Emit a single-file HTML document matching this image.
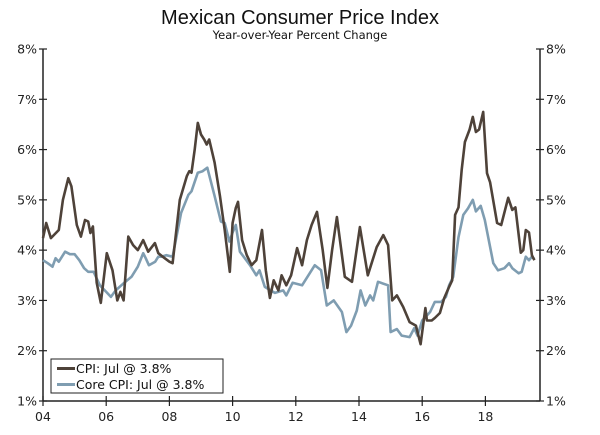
<!DOCTYPE html>
<html><head><meta charset="utf-8"><style>
body{margin:0;background:#fff;}
svg{display:block;font-family:"DejaVu Sans","Liberation Sans",sans-serif;}
</style></head><body>
<svg id="chart" width="600" height="435">
<rect width="600" height="435" fill="#ffffff"/>
<text x="300" y="24" text-anchor="middle" font-size="20" fill="#111" font-family="Liberation Sans, sans-serif">Mexican Consumer Price Index</text>
<text x="300" y="39" text-anchor="middle" font-size="11.5" fill="#111">Year-over-Year Percent Change</text>
<g id="axes"></g>
<g id="series"></g>
<g>
<rect x="51" y="359" width="172" height="34" fill="#fff" stroke="#222" stroke-width="1"/>
<line x1="57" y1="368.5" x2="75" y2="368.5" stroke="#4e4239" stroke-width="3"/>
<text x="76" y="373" font-size="12.5" fill="#111">CPI: Jul @ 3.8%</text>
<line x1="57" y1="384.5" x2="75" y2="384.5" stroke="#7f9db1" stroke-width="3"/>
<text x="76" y="389" font-size="12.5" fill="#111">Core CPI: Jul @ 3.8%</text>
</g>
</svg>
<script>
const cpiDates=[2004.0,2004.1,2004.25,2004.5,2004.63,2004.8,2004.9,2005.07,2005.2,2005.33,2005.43,2005.5,2005.58,2005.7,2005.83,2006.02,2006.2,2006.35,2006.45,2006.55,2006.7,2006.85,2007.0,2007.17,2007.33,2007.54,2007.65,2007.85,2008.0,2008.1,2008.33,2008.55,2008.63,2008.7,2008.8,2008.9,2009.0,2009.1,2009.18,2009.26,2009.43,2009.6,2009.75,2009.91,2010.0,2010.1,2010.17,2010.3,2010.45,2010.6,2010.75,2010.93,2011.05,2011.18,2011.3,2011.45,2011.55,2011.7,2011.85,2012.04,2012.2,2012.35,2012.5,2012.67,2012.85,2013.0,2013.15,2013.3,2013.55,2013.78,2014.03,2014.28,2014.56,2014.77,2014.92,2015.05,2015.2,2015.4,2015.6,2015.8,2015.95,2016.1,2016.15,2016.3,2016.4,2016.56,2016.7,2016.85,2016.95,2017.04,2017.15,2017.25,2017.35,2017.5,2017.6,2017.7,2017.8,2017.93,2018.05,2018.15,2018.37,2018.5,2018.72,2018.85,2018.95,2019.12,2019.2,2019.28,2019.38,2019.47,2019.55];
const cpiValues=[4.24,4.54,4.24,4.4,5.0,5.43,5.27,4.5,4.27,4.6,4.57,4.34,4.47,3.35,2.95,3.94,3.6,3.0,3.17,3.0,4.27,4.1,4.0,4.2,3.97,4.14,3.94,3.84,3.77,3.74,5.0,5.47,5.57,5.54,6.0,6.53,6.3,6.2,6.1,6.2,5.74,5.07,4.4,3.57,4.54,4.84,4.96,4.2,3.9,3.7,3.8,4.4,3.6,3.05,3.4,3.2,3.5,3.3,3.5,4.04,3.7,4.2,4.5,4.76,4.0,3.25,4.0,4.66,3.47,3.37,4.46,3.5,4.06,4.3,4.1,3.0,3.1,2.87,2.57,2.5,2.13,2.85,2.6,2.6,2.65,2.75,3.05,3.27,3.4,4.7,4.85,5.6,6.15,6.4,6.65,6.35,6.4,6.75,5.53,5.35,4.54,4.5,5.04,4.8,4.85,3.95,4.0,4.4,4.35,3.9,3.8];
const coreDates=[2004.0,2004.15,2004.3,2004.4,2004.5,2004.7,2004.85,2005.0,2005.15,2005.3,2005.43,2005.6,2005.8,2006.0,2006.15,2006.3,2006.55,2006.8,2007.0,2007.17,2007.25,2007.35,2007.55,2007.65,2007.75,2007.9,2008.1,2008.37,2008.6,2008.7,2008.9,2009.05,2009.2,2009.42,2009.63,2009.75,2009.9,2010.0,2010.1,2010.23,2010.55,2010.75,2010.85,2011.02,2011.34,2011.6,2011.7,2011.9,2012.2,2012.6,2012.8,2012.98,2013.2,2013.46,2013.6,2013.75,2013.93,2014.05,2014.2,2014.35,2014.45,2014.6,2014.92,2015.0,2015.2,2015.35,2015.6,2015.75,2015.85,2016.0,2016.25,2016.4,2016.6,2016.75,2016.85,2016.98,2017.15,2017.3,2017.45,2017.6,2017.7,2017.85,2017.98,2018.25,2018.4,2018.6,2018.75,2018.85,2019.05,2019.15,2019.28,2019.38,2019.47,2019.55];
const coreValues=[3.8,3.74,3.67,3.84,3.77,3.97,3.92,3.92,3.8,3.64,3.57,3.57,3.3,3.17,3.07,3.2,3.34,3.47,3.67,3.94,3.84,3.7,3.77,3.87,3.87,3.9,3.87,4.74,5.1,5.17,5.54,5.57,5.64,5.1,4.57,4.54,4.17,4.35,4.5,3.97,3.7,3.5,3.6,3.27,3.15,3.2,3.1,3.35,3.3,3.7,3.6,2.9,3.0,2.77,2.37,2.5,2.8,3.2,2.9,3.1,3.0,3.37,3.3,2.37,2.43,2.3,2.27,2.45,2.3,2.6,2.77,2.97,2.97,3.07,3.3,3.47,4.26,4.7,4.83,5.0,4.77,4.88,4.6,3.74,3.6,3.64,3.74,3.64,3.54,3.57,3.87,3.8,3.87,3.82];
const yTicks=[1,2,3,4,5,6,7,8];
const xTickYears=[2004,2006,2008,2010,2012,2014,2016,2018];
const xTickLabels=["04","06","08","10","12","14","16","18"];

const X0=43,X1=540,Y0=401,Y1=49;
function xs(t){return X0+(t-2004)*31.6;}
function ys(v){return Y0-(v-1)*(Y0-Y1)/7;}
const NS="http://www.w3.org/2000/svg";
const axes=document.getElementById('axes'),series=document.getElementById('series');
function mk(tag,attrs,parent){const e=document.createElementNS(NS,tag);for(const k in attrs)e.setAttribute(k,attrs[k]);parent.appendChild(e);return e;}
let l=mk('line',{x1:X0,y1:Y1,x2:X0,y2:Y0,stroke:'#222','stroke-width':1.5},axes);


l=mk('line',{x1:X1,y1:Y1,x2:X1,y2:Y0,stroke:'#222','stroke-width':1.5},axes);


l=mk('line',{x1:X0,y1:Y0,x2:X1,y2:Y0,stroke:'#222','stroke-width':1.5},axes);


yTicks.forEach(v=>{const y=ys(v);
 mk('line',{x1:X0-4,y1:y,x2:X0+4,y2:y,stroke:'#222','stroke-width':1.2},axes);
 mk('line',{x1:X1-4,y1:y,x2:X1+4,y2:y,stroke:'#222','stroke-width':1.2},axes);
 let t=mk('text',{x:X0-6,y:y+4.5,'text-anchor':'end','font-size':12.5,fill:'#222'},axes);t.textContent=v+'%';
 
 
 t=mk('text',{x:X1+6,y:y+4.5,'text-anchor':'start','font-size':12.5,fill:'#222'},axes);t.textContent=v+'%';
 
 
});
xTickYears.forEach((yr,i)=>{const x=xs(yr);
 mk('line',{x1:x,y1:Y0-5,x2:x,y2:Y0+5,stroke:'#222','stroke-width':1.2},axes);
 const t=mk('text',{x:x,y:Y0+20,'text-anchor':'middle','font-size':12.5,fill:'#222'},axes);t.textContent=xTickLabels[i];
 
 
});
function line(d,v,color,name){
 const p=d.map((t,i)=>(i?'L':'M')+xs(t).toFixed(1)+','+ys(v[i]).toFixed(1)).join('');
 const e=mk('path',{d:p,fill:'none',stroke:color,'stroke-width':2.6,'stroke-linejoin':'round'},series);
 
 
}
line(coreDates,coreValues,'#7f9db1','core-cpi-line');
line(cpiDates,cpiValues,'#4e4239','cpi-line');
</script>
</body></html>
